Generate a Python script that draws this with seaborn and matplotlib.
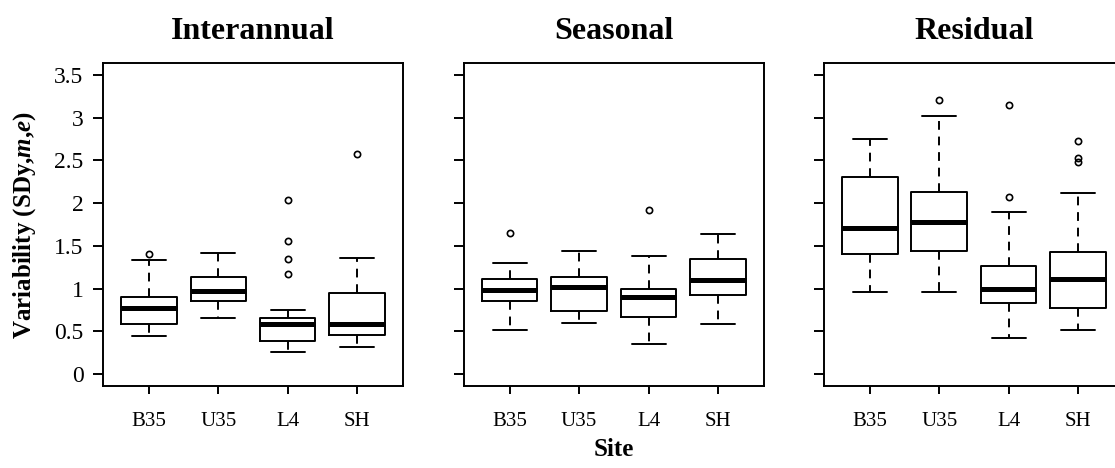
"""Box plots of variability per site for interannual, seasonal and residual components."""

import matplotlib

matplotlib.use("Agg")
import matplotlib.pyplot as plt
import pandas as pd
import seaborn as sns

SITES = ["B35", "U35", "L4", "SH"]
PANELS = ["Interannual", "Seasonal", "Residual"]

# five-number summaries, one row per panel, one entry per site
LOWER = [
    [0.44, 0.66, 0.26, 0.32],
    [0.51, 0.60, 0.35, 0.585],
    [0.96, 0.955, 0.42, 0.51],
]
Q1 = [
    [0.58, 0.86, 0.386, 0.452],
    [0.853, 0.74, 0.666, 0.92],
    [1.411, 1.438, 0.826, 0.772],
]
MEDIAN = [
    [0.77, 0.97, 0.58, 0.585],
    [0.986, 1.017, 0.90, 1.103],
    [1.707, 1.777, 0.99, 1.107],
]
Q3 = [
    [0.90, 1.14, 0.655, 0.947],
    [1.118, 1.134, 0.99, 1.345],
    [2.311, 2.132, 1.263, 1.426],
]
UPPER = [
    [1.34, 1.42, 0.75, 1.364],
    [1.30, 1.446, 1.387, 1.645],
    [2.751, 3.016, 1.894, 2.116],
]
OUTLIERS = [
    [[1.41], [], [1.17, 1.35, 1.555, 2.04], [2.57]],
    [[1.648], [], [1.925], []],
    [[], [3.21], [2.069, 3.153], [2.482, 2.533, 2.732]],
]

FONT = ["Liberation Serif", "DejaVu Serif"]


def sample_from_summary(lo, q1, med, q3, hi, outliers, k=8):
    # a small sample whose quartiles, whiskers and fliers reproduce the summary
    m = len(outliers)
    return [lo] * (1 + m) + [q1] * k + [med] + [q3] * k + [hi] + list(outliers)


def build_frame() -> pd.DataFrame:
    rows = []
    for p, panel in enumerate(PANELS):
        for s, site in enumerate(SITES):
            vals = sample_from_summary(
                LOWER[p][s], Q1[p][s], MEDIAN[p][s], Q3[p][s], UPPER[p][s], OUTLIERS[p][s]
            )
            rows += [{"panel": panel, "site": site, "value": v} for v in vals]
    return pd.DataFrame(rows)


def main() -> None:
    sns.set_theme(style="ticks")
    plt.rcParams["font.family"] = FONT
    plt.rcParams["text.color"] = "black"
    plt.rcParams["axes.labelcolor"] = "black"
    plt.rcParams["xtick.color"] = "black"
    plt.rcParams["ytick.color"] = "black"
    plt.rcParams["mathtext.fontset"] = "custom"
    plt.rcParams["mathtext.rm"] = "Liberation Serif:bold"
    plt.rcParams["mathtext.bfit"] = "Liberation Serif:italic:bold"
    plt.rcParams["axes.linewidth"] = 1.4
    plt.rcParams["axes.edgecolor"] = "black"
    plt.rcParams["xtick.major.width"] = 1.4
    plt.rcParams["ytick.major.width"] = 1.4
    plt.rcParams["xtick.major.size"] = 6
    plt.rcParams["ytick.major.size"] = 7

    df = build_frame()

    fig = plt.figure(figsize=(11.15, 4.68), dpi=100)
    lefts = [0.0924, 0.416, 0.739]
    axes = [fig.add_axes([l, 0.1752, 0.269, 0.690]) for l in lefts]

    for ax, panel in zip(axes, PANELS):
        sns.boxplot(
            data=df[df["panel"] == panel],
            x="site",
            y="value",
            order=SITES,
            ax=ax,
            fill=False,
            color="black",
            width=0.8,
            linewidth=1.4,
            capwidths=0.49,
            medianprops={"linewidth": 3.6, "color": "black"},
            whiskerprops={"linestyle": (0, (4.5, 3.5)), "color": "black"},
            capprops={"color": "black"},
            flierprops={
                "marker": "o",
                "markersize": 4.5,
                "markerfacecolor": "none",
                "markeredgecolor": "black",
                "markeredgewidth": 1.2,
            },
        )
        ax.set_xlim(-0.66, 3.66)
        ax.set_ylim(-0.14, 3.64)
        ax.set_yticks([0, 0.5, 1, 1.5, 2, 2.5, 3, 3.5])
        ax.set_yticklabels(["0", "0.5", "1", "1.5", "2", "2.5", "3", "3.5"])
        for side in ["top", "right", "left", "bottom"]:
            ax.spines[side].set_visible(True)
            ax.spines[side].set_color("black")
        ax.tick_params(axis="x", labelsize=15, pad=13, colors="black")
        ax.tick_params(axis="y", labelsize=17, pad=7, colors="black")
        ax.set_title(panel, fontsize=23, fontweight="bold", pad=17, color="black")
        ax.set_xlabel("")
        ax.set_ylabel("")

    for ax in axes[1:]:
        ax.tick_params(axis="y", labelleft=False)

    axes[0].set_ylabel(
        r"Variability (SDy,$\mathbfit{m}$,$\mathbfit{e}$)",
        fontsize=18,
        fontweight="bold",
        labelpad=12,
    )
    axes[1].set_xlabel("Site", fontsize=18, fontweight="bold", labelpad=5)

    fig.savefig("out.png", dpi=100)
    plt.close(fig)


if __name__ == "__main__":
    main()
